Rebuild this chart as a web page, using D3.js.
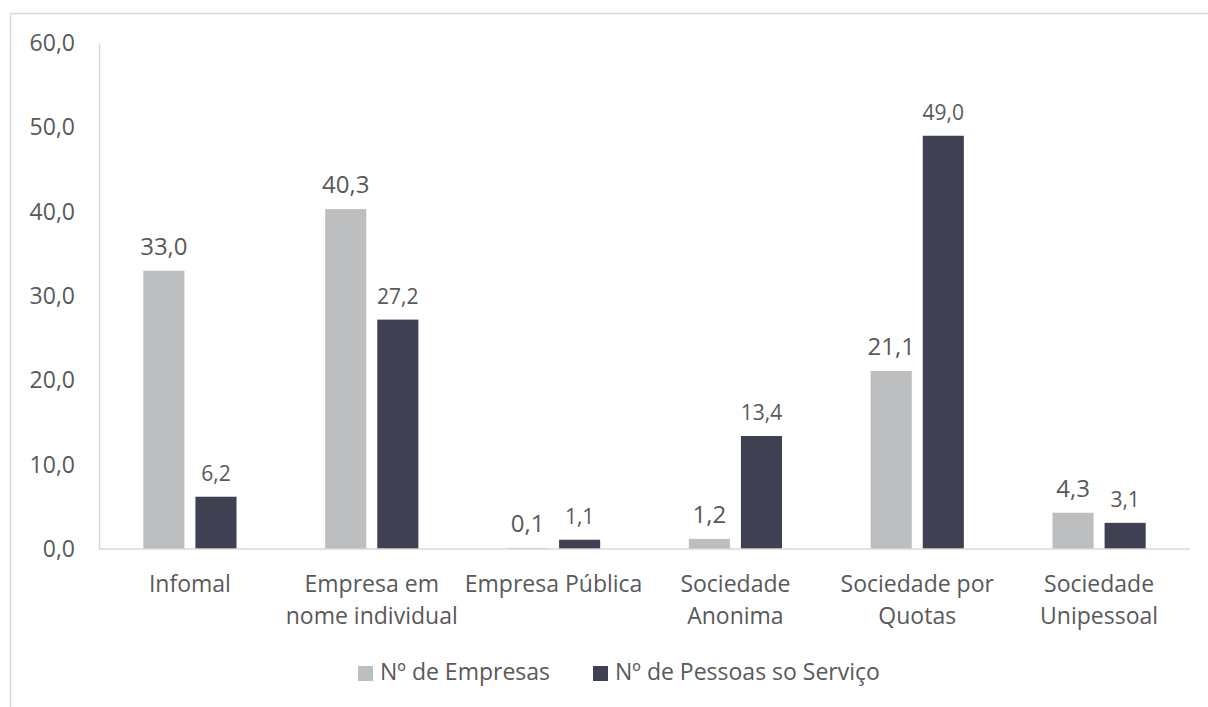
<!DOCTYPE html>
<html>
<head>
<meta charset="utf-8">
<script src="https://cdn.jsdelivr.net/npm/d3@7"></script>
<style>
  body { margin: 0; background: #fff; }
  text { font-family: "Open Sans", "Noto Sans", sans-serif; fill: #595959; }
</style>
</head>
<body>
<div id="chart"></div>
<script>
var categories = [
  ["Infomal"],
  ["Empresa em", "nome individual"],
  ["Empresa Pública"],
  ["Sociedade", "Anonima"],
  ["Sociedade por", "Quotas"],
  ["Sociedade", "Unipessoal"]
];
var seriesNames = ["Nº de Empresas", "Nº de Pessoas so Serviço"];
var empresas = [33.0, 40.3, 0.1, 1.2, 21.1, 4.3];
var pessoas = [6.2, 27.2, 1.1, 13.4, 49.0, 3.1];
var yTicks = [0, 10, 20, 30, 40, 50, 60];

var colors = ["#bdbec0", "#3f4052"];
var width = 1208, height = 707;
var margin = { top: 43, left: 99, right: 18, bottom: 158 };

var svg = d3.select("#chart").append("svg")
  .attr("width", width)
  .attr("height", height);

// outer frame (cropped on right/bottom)
svg.append("rect")
  .attr("x", 10.5).attr("y", 13.5)
  .attr("width", 1300).attr("height", 800)
  .attr("fill", "none").attr("stroke", "#d9d9d9").attr("stroke-width", 1.5);

var x0 = d3.scaleBand()
  .domain(d3.range(categories.length))
  .range([margin.left, width - margin.right]);

var y = d3.scaleLinear()
  .domain([0, 60])
  .range([height - margin.bottom, margin.top]);

var barW = x0.bandwidth() * 0.226;
var gap = 11;

var fmt = function (v) { return d3.format(".1f")(v).replace(".", ","); };

// y axis
var yAxis = svg.append("g")
  .attr("transform", "translate(" + margin.left + ",0)")
  .call(d3.axisLeft(y).tickValues(yTicks).tickSize(0).tickPadding(24).tickFormat(fmt));
yAxis.select(".domain").attr("stroke", "#d9d9d9").attr("stroke-width", 1.5);
yAxis.selectAll("text").attr("font-size", "23px").attr("fill", "#595959");

// bars
var series = [empresas, pessoas];
series.forEach(function (vals, s) {
  var g = svg.append("g");
  g.selectAll("rect").data(vals).enter().append("rect")
    .attr("x", function (d, i) {
      var c = x0(i) + x0.bandwidth() / 2;
      return s === 0 ? c - gap / 2 - barW : c + gap / 2;
    })
    .attr("y", function (d) { return y(d); })
    .attr("width", barW)
    .attr("height", function (d) { return y(0) - y(d); })
    .attr("fill", colors[s]);

  g.selectAll("text").data(vals).enter().append("text")
    .attr("x", function (d, i) {
      var c = x0(i) + x0.bandwidth() / 2;
      return s === 0 ? c - gap / 2 - barW / 2 : c + gap / 2 + barW / 2;
    })
    .attr("y", function (d) { return y(d) - 16; })
    .attr("text-anchor", "middle")
    .attr("font-size", s === 0 ? "24px" : "21px")
    .attr("fill", "#404040")
    .text(fmt);
});

// x axis line
svg.append("line")
  .attr("x1", margin.left).attr("x2", width - margin.right)
  .attr("y1", y(0)).attr("y2", y(0))
  .attr("stroke", "#d9d9d9").attr("stroke-width", 1.5);

// category labels
var cl = svg.append("g").selectAll("text").data(categories).enter().append("text")
  .attr("x", function (d, i) { return x0(i) + x0.bandwidth() / 2; })
  .attr("y", y(0) + 43)
  .attr("text-anchor", "middle")
  .attr("font-size", "23px");
cl.selectAll("tspan").data(function (d) { return d; }).enter().append("tspan")
  .attr("x", function () { return this.parentNode.getAttribute("x"); })
  .attr("dy", function (d, j) { return j === 0 ? 0 : 32; })
  .text(function (d) { return d; });

// legend
var legendX = [358, 593];
var lg = svg.append("g").selectAll("g").data(seriesNames).enter().append("g")
  .attr("transform", function (d, i) { return "translate(" + legendX[i] + ",666)"; });
lg.append("rect").attr("width", 15).attr("height", 15).attr("fill", function (d, i) { return colors[i]; });
lg.append("text").attr("x", 22).attr("y", 14).attr("font-size", "23px").text(function (d) { return d; });
</script>
</body>
</html>
